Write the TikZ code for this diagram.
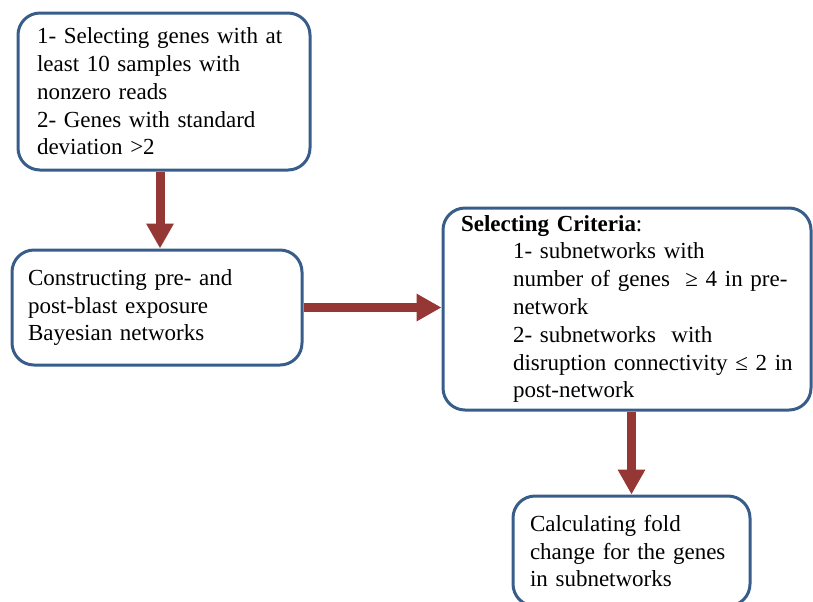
\documentclass[tikz,border=0pt]{standalone}
\usepackage{fontspec}
\setmainfont{Liberation Serif}
\usetikzlibrary{arrows.meta}
\definecolor{boxblue}{RGB}{56,93,138}
\definecolor{arrowred}{RGB}{149,55,53}
\newcommand{\critline}[1]{\mbox{\hspace{26pt}#1}}

\begin{document}
\begin{tikzpicture}[
    box/.style={draw=boxblue, line width=1.5pt, rounded corners=11pt, align=left,
      font=\fontsize{11.5}{13.9}\selectfont},
    fat/.style={draw=arrowred, line width=4.5pt, -{Triangle[width=13pt,length=12.5pt]}}]
      \useasboundingbox (0,0) rectangle (406.5pt,-300.5pt);
      \node[box, minimum width=146pt, minimum height=78.5pt, inner xsep=9.5pt, text width=127pt]
        (1) at (82pt,-45.75pt) {1- Selecting genes with at\\least 10 samples with\\nonzero reads\\2- Genes with standard\\deviation >2};
      \node[box, minimum width=145pt, minimum height=57.5pt, inner xsep=8pt, text width=129pt]
        (2) at (78.5pt,-153.75pt) {Constructing pre- and\\post-blast exposure\\Bayesian networks};
      \node[box, minimum width=184pt, minimum height=101pt, inner xsep=9pt, text width=166pt]
        (3) at (313.5pt,-154.5pt) {\textbf{Selecting Criteria}:\\\critline{1- subnetworks with}\\\critline{number of genes \ ≥ 4 in pre-}\\\critline{network}\\\critline{2- subnetworks \ with}\\\critline{disruption connectivity ≤ 2 in}\\\critline{post-network}};
      \node[box, minimum width=118.5pt, minimum height=55pt, inner xsep=8.5pt, text width=101.5pt]
        (4) at (315.75pt,-275.5pt) {Calculating fold\\change for the genes\\in subnetworks};

      \draw[fat] ([xshift=-2pt]1.south) -- ([xshift=-2pt]1.south |- 2.north);
      \draw[fat] (2.east) -- (2.east -| 3.west);
      \draw[fat] (4.north |- 3.south) -- (4.north);
    \end{tikzpicture}
\end{document}
